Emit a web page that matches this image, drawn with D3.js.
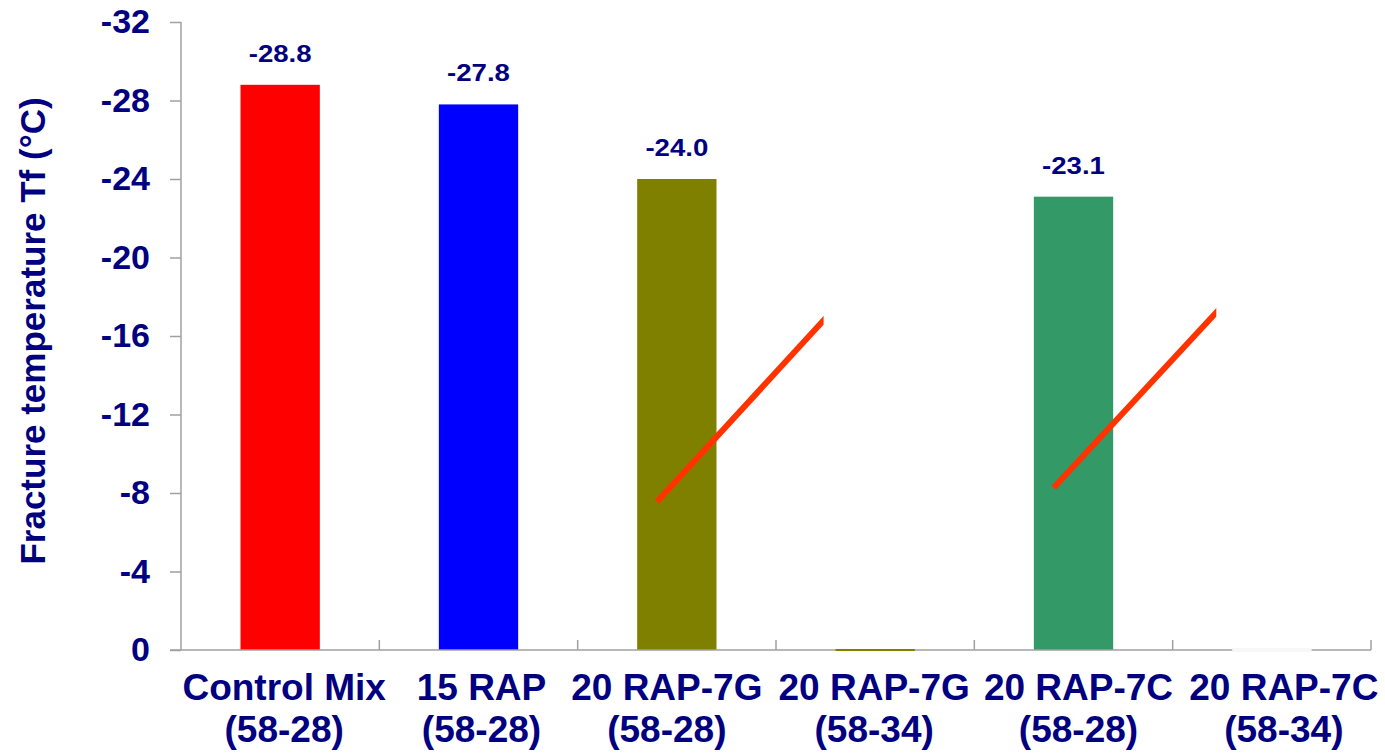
<!DOCTYPE html>
<html>
<head>
<meta charset="utf-8">
<script src="https://cdn.jsdelivr.net/npm/d3@7"></script>
<style>
  html, body { margin: 0; padding: 0; background: #fff; }
  svg { display: block; }
  text { font-family: "Liberation Sans", Arial, sans-serif; font-weight: bold; fill: #000080; }
</style>
</head>
<body>
<svg id="chart" width="1385" height="755"></svg>
<script>
// Mix names (two lines each) and fracture temperatures (°C)
const categories = [
  ["Control Mix", "(58-28)"],
  ["15 RAP", "(58-28)"],
  ["20 RAP-7G", "(58-28)"],
  ["20 RAP-7G", "(58-34)"],
  ["20 RAP-7C", "(58-28)"],
  ["20 RAP-7C", "(58-34)"]
];
const values = [-28.8, -27.8, -24.0, 0, -23.1, 0];
const valueLabels = ["-28.8", "-27.8", "-24.0", null, "-23.1", null];
const barColors = ["#ff0000", "#0000ff", "#808000", "#808000", "#339966", "#ffffff"];
const yTicks = [0, -4, -8, -12, -16, -20, -24, -28, -32];

// Red strike-through lines, in category units (x) and °C (y)
const strikeFrom = [[2.40, -7.55], [4.40, -8.27]];
const strikeTo   = [[3.24, -16.8], [5.22, -17.2]];

// Layout
const svg = d3.select("#chart");
const plotL = 181, plotR = 1371, plotT = 22, plotB = 650;
const axisColor = "#a0a0a0";
// horizontal nudges that keep the wide category labels from touching
const labelNudge = [4, 3, -10, -1, 5, 12];

const keys = categories.map((c, i) => i);
const x = d3.scaleBand().domain(keys).range([plotL, plotR])
  .paddingInner(0.6).paddingOuter(0.3);
const step = x.step();
const xc = u => plotL + u * step;           // continuous category position
const y = d3.scaleLinear().domain([0, -32]).range([plotB, plotT]);

// Bars
svg.append("g").selectAll("rect").data(values).join("rect")
  .attr("x", (d, i) => x(i))
  .attr("width", x.bandwidth())
  .attr("y", d => y(d))
  .attr("height", d => Math.max(0, plotB - y(d)))
  .attr("fill", (d, i) => barColors[i]);

// Y axis (plain hyphen-minus in tick labels)
const yAxis = svg.append("g").attr("transform", `translate(${plotL},0)`)
  .call(d3.axisLeft(y).tickValues(yTicks).tickSize(11).tickPadding(20).tickFormat(d => String(d)));
yAxis.select(".domain").attr("stroke", axisColor).attr("stroke-width", 1.5)
  .attr("d", `M0,${plotT}V${plotB}`);
yAxis.selectAll(".tick line").attr("stroke", axisColor).attr("stroke-width", 1.5);
yAxis.selectAll(".tick text")
  .style("font-family", "'Liberation Sans', Arial, sans-serif")
  .style("font-weight", "bold")
  .style("font-size", "34px")
  .attr("fill", "#000080");

// X axis line with inward category separators
const xAxis = svg.append("g");
xAxis.append("line").attr("x1", plotL - 11).attr("x2", plotR)
  .attr("y1", plotB).attr("y2", plotB)
  .attr("stroke", axisColor).attr("stroke-width", 1.5);
xAxis.selectAll("line.sep").data(d3.range(1, categories.length + 1)).join("line")
  .attr("class", "sep")
  .attr("x1", d => xc(d)).attr("x2", d => xc(d))
  .attr("y1", plotB).attr("y2", plotB - 10)
  .attr("stroke", axisColor).attr("stroke-width", 1.5);

// Zero-height bars drawn as thin strips on the axis
svg.append("g").selectAll("rect").data(values.map((v, i) => [v, i]).filter(d => d[0] === 0)).join("rect")
  .attr("x", d => x(d[1]))
  .attr("width", x.bandwidth())
  .attr("y", plotB - 1)
  .attr("height", 2)
  .attr("fill", d => barColors[d[1]])
  .attr("stroke", d => barColors[d[1]] === "#ffffff" ? "#e0e0e0" : "none")
  .attr("stroke-width", 0.5);

// Value labels
svg.append("g").selectAll("text").data(values.map((v, i) => [v, i]).filter(d => valueLabels[d[1]])).join("text")
  .attr("text-anchor", "middle")
  .attr("transform", d => `translate(${x(d[1]) + x.bandwidth() / 2},${y(d[0]) - 23}) scale(1.15,1)`)
  .style("font-size", "24px")
  .text(d => valueLabels[d[1]]);

// Category labels
const labelX = i => x(i) + x.bandwidth() / 2 + labelNudge[i];
const catG = svg.append("g").selectAll("text").data(categories).join("text")
  .attr("text-anchor", "middle")
  .attr("x", (d, i) => labelX(i))
  .attr("y", 700)
  .style("font-size", "37px");
catG.append("tspan").attr("x", (d, i) => labelX(i)).text(d => d[0]);
catG.append("tspan").attr("x", (d, i) => labelX(i)).attr("dy", 42).text(d => d[1]);

// Y axis title
svg.append("text")
  .attr("text-anchor", "middle")
  .attr("transform", `translate(45,331) rotate(-90)`)
  .style("font-size", "35px")
  .text("Fracture temperature Tf (°C)");

// Strike-through lines, cut off vertically at their upper end
const defs = svg.append("defs");
strikeFrom.forEach((p, i) => {
  const q = strikeTo[i];
  const x0 = xc(p[0]), y0 = y(p[1]), x1 = xc(q[0]), y1 = y(q[1]);
  const id = "strike-clip-" + i;
  defs.append("clipPath").attr("id", id).append("rect")
    .attr("x", 0).attr("y", 0).attr("width", x1).attr("height", 755);
  const ext = 6 / Math.hypot(x1 - x0, y1 - y0);
  svg.append("line")
    .attr("clip-path", `url(#${id})`)
    .attr("x1", x0).attr("y1", y0)
    .attr("x2", x1 + (x1 - x0) * ext).attr("y2", y1 + (y1 - y0) * ext)
    .attr("stroke", "#ff3300").attr("stroke-width", 6);
});
</script>
</body>
</html>
